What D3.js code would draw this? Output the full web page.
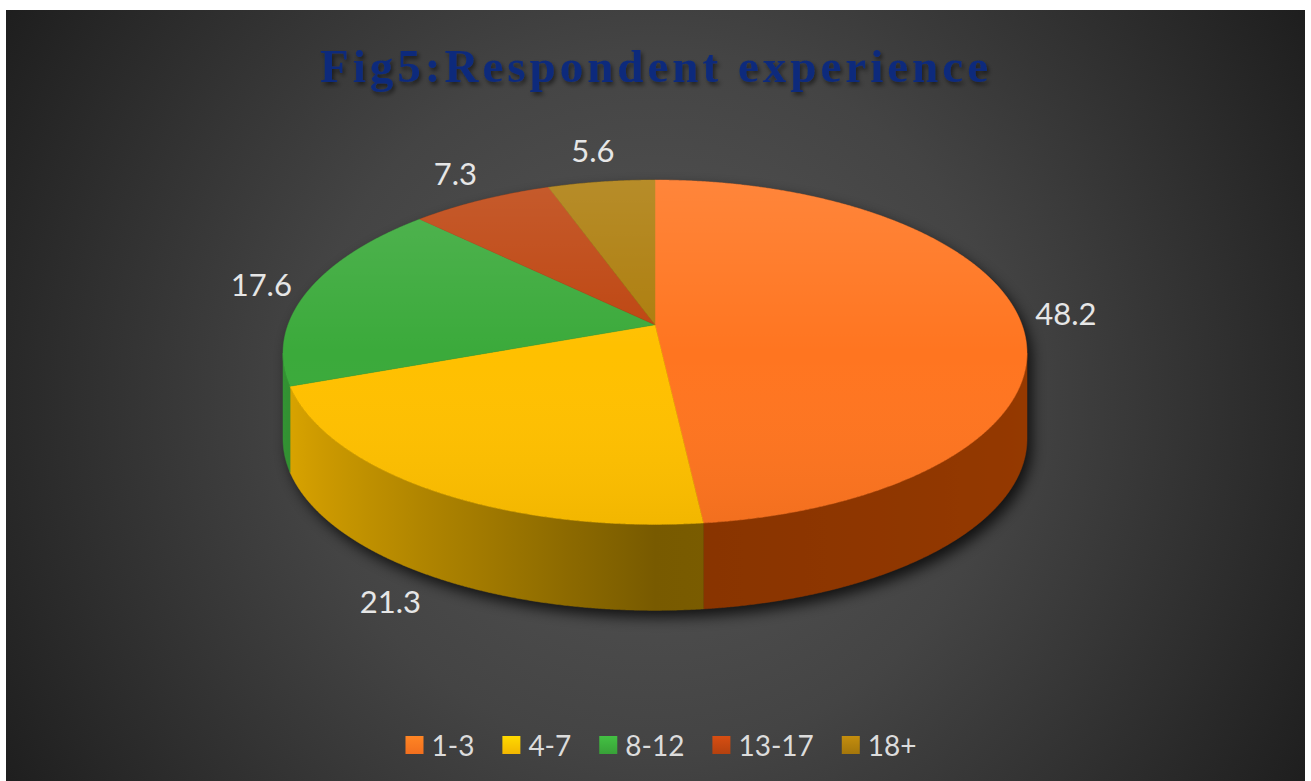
<!DOCTYPE html>
<html>
<head>
<meta charset="utf-8">
<script src="https://cdn.jsdelivr.net/npm/d3@7"></script>
<style>
  body { margin: 0; background: #ffffff; }
  svg { display: block; }
</style>
</head>
<body>
<svg id="svg" width="1311" height="781"></svg>
<script>
// donnees du graphique
var title = "Fig5:Respondent experience";
var categories = ["1-3", "4-7", "8-12", "13-17", "18+"];
var values = [48.2, 21.3, 17.6, 7.3, 5.6];
var colors = ["#FF7520", "#FFC000", "#3BAA3B", "#BE4510", "#AD7D0C"];

Chart =
{
	// forme du camembert vu en perspective
	cx: 655,
	R0: 367,   // rayon horizontal au milieu
	K: 61.6,   // plus large devant, plus etroit derriere
	A: 324.8,  // y du centre
	B: 172.2,
	C: 27.4,
	depth: 86,

	proj(t)
	{
		var u = Math.sin(t), v = -Math.cos(t);
		return [this.cx + u * (this.R0 + this.K * v), this.A + this.B * v + this.C * v * v];
	},

	shade(col, t)
	{
		var u = Math.sin(t);
		var f = 0.47 + 0.40 * Math.max(0, -u) + 0.05 * Math.max(0, u);
		var h = d3.hsl(col);
		h.l = h.l * f;
		return h.formatHex();
	},

	init_defs()
	{
		var defs = canevas.append("defs");

		var bg = defs.append("radialGradient").attr("id", "bg")
			.attr("gradientUnits", "userSpaceOnUse")
			.attr("cx", 655).attr("cy", 400).attr("r", 780);
		bg.append("stop").attr("offset", "0").attr("stop-color", "#575757");
		bg.append("stop").attr("offset", "0.45").attr("stop-color", "#444444");
		bg.append("stop").attr("offset", "1").attr("stop-color", "#1c1c1c");

		var blur = defs.append("filter").attr("id", "blur")
			.attr("x", "-20%").attr("y", "-20%").attr("width", "140%").attr("height", "140%");
		blur.append("feGaussianBlur").attr("stdDeviation", 7);

		var ts = defs.append("filter").attr("id", "tshadow")
			.attr("x", "-5%").attr("y", "-30%").attr("width", "110%").attr("height", "160%");
		ts.append("feDropShadow").attr("dx", 2).attr("dy", 3).attr("stdDeviation", 2)
			.attr("flood-color", "#000").attr("flood-opacity", 0.5);

		var gl = defs.append("linearGradient").attr("id", "gloss")
			.attr("x1", 0).attr("y1", 0).attr("x2", 0).attr("y2", 1);
		gl.append("stop").attr("offset", "0").attr("stop-color", "#fff").attr("stop-opacity", 0.12);
		gl.append("stop").attr("offset", "0.5").attr("stop-color", "#fff").attr("stop-opacity", 0);
		gl.append("stop").attr("offset", "1").attr("stop-color", "#000").attr("stop-opacity", 0.05);

		// petits carres de la legende
		colors.forEach(function(c, i){
			var g = defs.append("linearGradient").attr("id", "leg" + i)
				.attr("x1", 0).attr("y1", 0).attr("x2", 0).attr("y2", 1);
			g.append("stop").attr("offset", "0").attr("stop-color", d3.color(c).brighter(0.35));
			g.append("stop").attr("offset", "1").attr("stop-color", d3.color(c).darker(0.15));
		});
		this.defs = defs;
	},

	draw_pie()
	{
		var that = this;
		var pie = d3.pie().sort(null).value(function(d){ return d; });
		var arcs = pie(values);
		var color = d3.scaleOrdinal().domain(categories).range(colors);

		// silhouette gauche / droite
		var tR = 0, tL = 0, xmax = -1e9, xmin = 1e9;
		for (var t = 0; t < 2 * Math.PI; t += 0.001){
			var p = that.proj(t);
			if (p[0] > xmax){ xmax = p[0]; tR = t; }
			if (p[0] < xmin){ xmin = p[0]; tL = t; }
		}

		// degrades des cotes, de gauche a droite
		colors.forEach(function(c, i){
			var g = that.defs.append("linearGradient").attr("id", "side" + i)
				.attr("gradientUnits", "userSpaceOnUse")
				.attr("x1", xmin).attr("y1", 0).attr("x2", xmax).attr("y2", 0);
			for (var k = 0; k <= 40; k++){
				var t = tL - (tL - tR) * k / 40;
				var x = that.proj(t)[0];
				g.append("stop").attr("offset", (x - xmin) / (xmax - xmin))
					.attr("stop-color", that.shade(c, t));
			}
		});

		// ombre
		var sh = [];
		for (var t = tL; t < tR + 2 * Math.PI; t += 0.01){ sh.push(that.proj(t)); }
		for (var t = tR; t <= tL; t += 0.01){ var p = that.proj(t); sh.push([p[0], p[1] + that.depth]); }
		canevas.append("path")
			.attr("d", d3.line()(sh) + "Z")
			.attr("transform", "translate(5,7)")
			.attr("fill", "#000").attr("opacity", 0.75)
			.attr("filter", "url(#blur)");

		// cotes
		var side = canevas.append("g");
		arcs.forEach(function(a, i){
			var s0 = Math.max(a.startAngle, tR), s1 = Math.min(a.endAngle, tL);
			if (s0 >= s1) return;
			var up = [], down = [];
			for (var t = s0; t < s1; t += 0.004){
				var p = that.proj(t);
				up.push(p);
				down.push([p[0], p[1] + that.depth]);
			}
			var pe = that.proj(s1);
			up.push(pe);
			down.push([pe[0], pe[1] + that.depth]);
			side.append("path")
				.attr("d", d3.line()(up.concat(down.reverse())) + "Z")
				.attr("fill", "url(#side" + i + ")")
				.attr("stroke", "url(#side" + i + ")").attr("stroke-width", 0.5);
		});

		// dessus
		var top = canevas.append("g");
		arcs.forEach(function(a, i){
			var pts = [[that.cx, that.A]];
			for (var t = a.startAngle; t < a.endAngle; t += 0.004){ pts.push(that.proj(t)); }
			pts.push(that.proj(a.endAngle));
			top.append("path")
				.attr("d", d3.line()(pts) + "Z")
				.attr("fill", color(categories[i]))
				.attr("stroke", color(categories[i])).attr("stroke-width", 0.5);
		});
		var full = [];
		for (var t = 0; t < 2 * Math.PI; t += 0.01){ full.push(that.proj(t)); }
		top.append("path").attr("d", d3.line()(full) + "Z").attr("fill", "url(#gloss)");

		// etiquettes
		arcs.forEach(function(a, i){
			var m = (a.startAngle + a.endAngle) / 2;
			var u = Math.sin(m), v = -Math.cos(m);
			var p = that.proj(m);
			var x = p[0] + 48 * u;
			var y = p[1] + 32 * v + (v > 0 ? that.depth * v : 0);
			if (v > 0.5){ x -= 18; y += 10; }
			canevas.append("text")
				.text(values[i])
				.attr("x", x).attr("y", y)
				.attr("text-anchor", "middle")
				.attr("dominant-baseline", "central")
				.attr("fill", "#e6e6e6")
				.style("font-family", "Lato, 'Liberation Sans', sans-serif")
				.style("font-size", "31px");
		});
	},

	draw_legend()
	{
		var g = canevas.append("g");
		var x = 0;
		categories.forEach(function(c, i){
			var it = g.append("g");
			it.append("rect").attr("x", 0).attr("y", -9).attr("width", 18).attr("height", 18)
				.attr("fill", "url(#leg" + i + ")");
			var tx = it.append("text").text(c)
				.attr("x", 26).attr("y", 0)
				.attr("dominant-baseline", "central")
				.attr("fill", "#dcdcdc")
				.style("font-family", "Lato, 'Liberation Sans', sans-serif")
				.style("font-size", "28px");
			var w = 26 + tx.node().getComputedTextLength();
			it.attr("transform", "translate(" + x + ",0)");
			x += w + 28;
		});
		var total = x - 28;
		g.attr("transform", "translate(" + (661 - total / 2) + ",745)");
	},

	init()
	{
		canevas = d3.select("#svg");
		this.init_defs();

		canevas.append("rect")
			.attr("x", 6).attr("y", 10).attr("width", 1299).attr("height", 771)
			.attr("fill", "url(#bg)");

		canevas.append("text")
			.text(title)
			.attr("x", 654).attr("y", 82)
			.attr("text-anchor", "middle")
			.attr("textLength", 668).attr("lengthAdjust", "spacing")
			.attr("fill", "#102c7c")
			.attr("filter", "url(#tshadow)")
			.style("font-family", "'Liberation Serif', 'DejaVu Serif', serif")
			.style("font-weight", "bold")
			.style("font-size", "47px");

		this.draw_pie();
		this.draw_legend();
	}
}

Chart.init();
</script>
</body>
</html>
